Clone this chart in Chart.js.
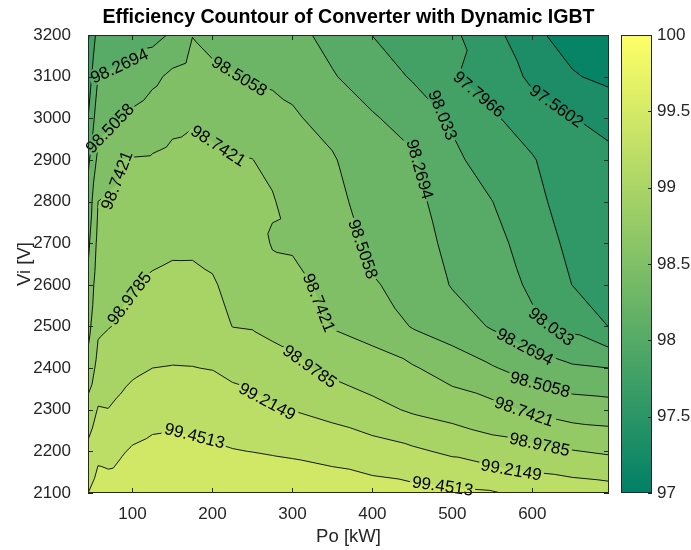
<!DOCTYPE html>
<html>
<head>
<meta charset="utf-8">
<script src="https://cdn.jsdelivr.net/npm/chart.js@4.4.0/dist/chart.umd.min.js"></script>
<style>
  html, body { margin: 0; padding: 0; background: #fff; }
</style>
</head>
<body>
<canvas id="effChart" width="691" height="550"></canvas>
<script>
"use strict";

// measurement grid: output power (kW) columns and input voltage (V) rows
let poGrid = [44.4, 57, 70, 85, 100, 125, 150, 175, 200, 225, 250, 275, 300, 350, 400, 450, 500, 550, 600, 650, 695.9];
let viGrid = [2100, 2200, 2300, 2400, 2500, 2600, 2700, 2800, 2900, 3000, 3100, 3200];

// efficiency (%) per Vi row, one value per Po column
let eff2100 = [99.45, 99.55, 99.54, 99.55, 99.60, 99.64, 99.67, 99.68, 99.6877, 99.67, 99.65, 99.63, 99.61, 99.58, 99.55, 99.52, 99.49, 99.47, 99.38, 99.35, 99.32];
let eff2200 = [99.27, 99.40, 99.385, 99.43, 99.475, 99.51, 99.52, 99.51, 99.482, 99.461, 99.448, 99.432, 99.418, 99.377, 99.315, 99.254, 99.174, 99.087, 99.049, 98.99, 98.947];
let eff2300 = [99.07, 99.23, 99.22, 99.266, 99.318, 99.365, 99.373, 99.364, 99.343, 99.318, 99.294, 99.235, 99.21, 99.14, 99.051, 98.949, 98.882, 98.814, 98.706, 98.629, 98.606];
let eff2400 = [98.815, 99.057, 99.091, 99.13, 99.173, 99.215, 99.222, 99.219, 99.208, 99.161, 99.123, 99.066, 99.032, 98.923, 98.834, 98.766, 98.633, 98.524, 98.403, 98.301, 98.27];
let eff2500 = [98.665, 98.942, 98.971, 99.0, 99.052, 99.111, 99.124, 99.123, 99.103, 98.976, 98.966, 98.93, 98.906, 98.731, 98.662, 98.493, 98.396, 98.247, 98.088, 97.973, 97.792];
let eff2600 = [98.56, 98.876, 98.905, 98.931, 98.952, 99.008, 99.029, 99.028, 98.999, 98.922, 98.911, 98.83, 98.802, 98.68, 98.522, 98.445, 98.253, 98.176, 97.987, 97.794, 97.744];
let eff2700 = [98.45, 98.809, 98.84, 98.869, 98.887, 98.921, 98.943, 98.944, 98.922, 98.867, 98.856, 98.725, 98.717, 98.629, 98.457, 98.396, 98.196, 98.105, 97.93, 97.737, 97.696];
let eff2800 = [98.345, 98.743, 98.775, 98.807, 98.821, 98.841, 98.867, 98.873, 98.853, 98.813, 98.80, 98.76, 98.656, 98.578, 98.401, 98.347, 98.138, 98.035, 97.87, 97.677, 97.648];
let eff2900 = [98.215, 98.567, 98.639, 98.745, 98.755, 98.762, 98.791, 98.802, 98.784, 98.759, 98.745, 98.69, 98.596, 98.528, 98.345, 98.298, 98.081, 97.931, 97.816, 97.62, 97.60];
let eff3000 = [98.03, 98.415, 98.45, 98.497, 98.562, 98.631, 98.693, 98.722, 98.684, 98.65, 98.621, 98.58, 98.535, 98.426, 98.289, 98.191, 98.003, 97.829, 97.677, 97.566, 97.509];
let eff3100 = [97.894, 98.275, 98.29, 98.312, 98.342, 98.451, 98.557, 98.605, 98.540, 98.518, 98.487, 98.47, 98.445, 98.284, 98.172, 98.01, 97.81, 97.723, 97.512, 97.347, 97.259];
let eff3200 = [97.76, 98.128, 98.14, 98.155, 98.17, 98.195, 98.30, 98.50, 98.46, 98.43, 98.40, 98.36, 98.328, 98.21, 98.03, 97.92, 97.84, 97.64, 97.38, 97.22, 97.0874];

let effRows = [eff2100, eff2200, eff2300, eff2400, eff2500, eff2600, eff2700, eff2800, eff2900, eff3000, eff3100, eff3200];

// contour levels (lowest fill uses effMin)
let levels = [97.3238, 97.5602, 97.7966, 98.033, 98.2694, 98.5058, 98.7421, 98.9785, 99.2149, 99.4513];
let effMin = 97.0874;

let xTicks = [100, 200, 300, 400, 500, 600];
let yTicks = [2100, 2200, 2300, 2400, 2500, 2600, 2700, 2800, 2900, 3000, 3100, 3200];
let cbTicks = [97, 97.5, 98, 98.5, 99, 99.5, 100];

// where the contour labels sit: [level index, Po, Vi]
let labelSpots = [
  [4, 83, 3129], [5, 73, 2975], [6, 68, 2855], [5, 241, 3120], [6, 212, 2951],
  [7, 98, 2562], [8, 271, 2327], [9, 177, 2234], [7, 317, 2394], [6, 324, 2550],
  [5, 371, 2674], [4, 465, 2880], [3, 489, 3009], [2, 532, 3055], [1, 631, 3031],
  [3, 622, 2495], [4, 589, 2445], [5, 610, 2363], [6, 589, 2291], [7, 609, 2216],
  [8, 574, 2160], [9, 488, 2120]
];

let fontFam = "'Liberation Sans', Arial, Helvetica, sans-serif";
let axisColor = "#262626";

// MATLAB "summer" map, caxis 97..100
function summerColor(v) {
  let t = (v - 97) / 3;
  t = Math.max(0, Math.min(1, t));
  return [Math.round(255 * t), Math.round(255 * (0.5 + 0.5 * t)), Math.round(255 * 0.4)];
}

function bandValue(v) {
  let k = 0;
  while (k < levels.length && v >= levels[k]) k++;
  return k === 0 ? effMin : levels[k - 1];
}

function findCell(arr, v) {
  for (let i = 0; i < arr.length - 2; i++) {
    if (v < arr[i + 1]) return i;
  }
  return arr.length - 2;
}

function effAt(po, vi) {
  let i = findCell(poGrid, po);
  let j = findCell(viGrid, vi);
  let u = (po - poGrid[i]) / (poGrid[i + 1] - poGrid[i]);
  let w = (vi - viGrid[j]) / (viGrid[j + 1] - viGrid[j]);
  u = Math.max(0, Math.min(1, u));
  w = Math.max(0, Math.min(1, w));
  let z00 = effRows[j][i], z10 = effRows[j][i + 1], z01 = effRows[j + 1][i], z11 = effRows[j + 1][i + 1];
  if (u + w <= 1) return z00 + u * (z10 - z00) + w * (z01 - z00);
  return z11 + (1 - u) * (z01 - z11) + (1 - w) * (z10 - z11);
}

function triSegment(tri, level, segs) {
  let pts = [];
  for (let e = 0; e < 3; e++) {
    let a = tri[e], b = tri[(e + 1) % 3];
    let da = a[2] - level, db = b[2] - level;
    if ((da < 0) !== (db < 0)) {
      let t = da / (da - db);
      pts.push([a[0] + t * (b[0] - a[0]), a[1] + t * (b[1] - a[1])]);
    }
  }
  if (pts.length === 2) segs.push(pts);
}

function contourSegments(level) {
  let segs = [];
  for (let j = 0; j < viGrid.length - 1; j++) {
    for (let i = 0; i < poGrid.length - 1; i++) {
      let p00 = [poGrid[i], viGrid[j], effRows[j][i]];
      let p10 = [poGrid[i + 1], viGrid[j], effRows[j][i + 1]];
      let p01 = [poGrid[i], viGrid[j + 1], effRows[j + 1][i]];
      let p11 = [poGrid[i + 1], viGrid[j + 1], effRows[j + 1][i + 1]];
      triSegment([p00, p10, p01], level, segs);
      triSegment([p11, p01, p10], level, segs);
    }
  }
  return segs;
}

let contourPlugin = {
  id: "contourPlugin",
  beforeDatasetsDraw(chart) {
    let ctx = chart.ctx;
    let area = chart.chartArea;
    let xs = chart.scales.x;
    let ys = chart.scales.y;

    // filled bands
    let W = Math.round(area.right - area.left);
    let H = Math.round(area.bottom - area.top);
    let off = document.createElement("canvas");
    off.width = W;
    off.height = H;
    let octx = off.getContext("2d");
    let img = octx.createImageData(W, H);
    for (let py = 0; py < H; py++) {
      let vi = ys.getValueForPixel(area.top + py + 0.5);
      for (let px = 0; px < W; px++) {
        let po = xs.getValueForPixel(area.left + px + 0.5);
        let c = summerColor(bandValue(effAt(po, vi)));
        let k = (py * W + px) * 4;
        img.data[k] = c[0];
        img.data[k + 1] = c[1];
        img.data[k + 2] = c[2];
        img.data[k + 3] = 255;
      }
    }
    octx.putImageData(img, 0, 0);
    ctx.drawImage(off, area.left, area.top);

    // contour segments in pixels
    let pixSegs = levels.map(function (lv) {
      return contourSegments(lv).map(function (s) {
        return [[xs.getPixelForValue(s[0][0]), ys.getPixelForValue(s[0][1])],
                [xs.getPixelForValue(s[1][0]), ys.getPixelForValue(s[1][1])]];
      });
    });

    // label placement: snap to the nearest point of its contour
    ctx.font = "17px " + fontFam;
    let placed = [];
    labelSpots.forEach(function (spot) {
      let segs = pixSegs[spot[0]];
      if (!segs.length) return;
      let sx = xs.getPixelForValue(spot[1]);
      let sy = ys.getPixelForValue(spot[2]);
      let best = null, bestD = Infinity, bestSeg = null;
      segs.forEach(function (s) {
        let ax = s[0][0], ay = s[0][1], bx = s[1][0], by = s[1][1];
        let dx = bx - ax, dy = by - ay;
        let len2 = dx * dx + dy * dy || 1e-9;
        let t = ((sx - ax) * dx + (sy - ay) * dy) / len2;
        t = Math.max(0, Math.min(1, t));
        let qx = ax + t * dx, qy = ay + t * dy;
        let d = (qx - sx) * (qx - sx) + (qy - sy) * (qy - sy);
        if (d < bestD) { bestD = d; best = [qx, qy]; bestSeg = s; }
      });
      let rx = bestSeg[1][0] - bestSeg[0][0], ry = bestSeg[1][1] - bestSeg[0][1];
      let dirX = 0, dirY = 0;
      segs.forEach(function (s) {
        let mx = (s[0][0] + s[1][0]) / 2, my = (s[0][1] + s[1][1]) / 2;
        if ((mx - best[0]) * (mx - best[0]) + (my - best[1]) * (my - best[1]) < 20 * 20) {
          let ex = s[1][0] - s[0][0], ey = s[1][1] - s[0][1];
          if (ex * rx + ey * ry < 0) { ex = -ex; ey = -ey; }
          dirX += ex;
          dirY += ey;
        }
      });
      if (dirX === 0 && dirY === 0) { dirX = rx; dirY = ry; }
      let ang = Math.atan2(dirY, dirX);
      if (ang > Math.PI / 2) ang -= Math.PI;
      if (ang < -Math.PI / 2) ang += Math.PI;
      let text = String(levels[spot[0]]);
      placed.push({ x: best[0], y: best[1], ang: ang, text: text, w: ctx.measureText(text).width });
    });

    // lines, with gaps under the labels
    ctx.save();
    ctx.beginPath();
    ctx.rect(area.left, area.top, area.right - area.left, area.bottom - area.top);
    placed.forEach(function (lb) {
      let c = Math.cos(lb.ang), s = Math.sin(lb.ang);
      let hw = lb.w / 2 + 2, hh = 8;
      let pts = [[-hw, -hh], [hw, -hh], [hw, hh], [-hw, hh]];
      pts.forEach(function (p, n) {
        let X = lb.x + p[0] * c - p[1] * s;
        let Y = lb.y + p[0] * s + p[1] * c;
        if (n === 0) ctx.moveTo(X, Y); else ctx.lineTo(X, Y);
      });
      ctx.closePath();
    });
    ctx.clip("evenodd");
    ctx.strokeStyle = "#000";
    ctx.lineWidth = 0.9;
    ctx.lineJoin = "round";
    ctx.beginPath();
    pixSegs.forEach(function (segs) {
      segs.forEach(function (s) {
        ctx.moveTo(s[0][0], s[0][1]);
        ctx.lineTo(s[1][0], s[1][1]);
      });
    });
    ctx.stroke();
    ctx.restore();

    // label text
    ctx.save();
    ctx.fillStyle = "#000";
    ctx.textAlign = "center";
    ctx.textBaseline = "middle";
    ctx.font = "17px " + fontFam;
    placed.forEach(function (lb) {
      ctx.save();
      ctx.translate(lb.x, lb.y);
      ctx.rotate(lb.ang);
      ctx.fillText(lb.text, 0, 1);
      ctx.restore();
    });
    ctx.restore();
  },
  afterDraw(chart) {
    let ctx = chart.ctx;
    let area = chart.chartArea;
    let xs = chart.scales.x;
    let ys = chart.scales.y;
    let cb = chart.scales.cb;

    // axes box with inward ticks
    ctx.save();
    ctx.strokeStyle = axisColor;
    ctx.lineWidth = 1;
    ctx.strokeRect(area.left + 0.5, area.top + 0.5, area.right - area.left - 1, area.bottom - area.top - 1);
    ctx.beginPath();
    xTicks.forEach(function (v) {
      let x = Math.round(xs.getPixelForValue(v)) + 0.5;
      ctx.moveTo(x, area.bottom);
      ctx.lineTo(x, area.bottom - 5);
      ctx.moveTo(x, area.top);
      ctx.lineTo(x, area.top + 5);
    });
    yTicks.forEach(function (v) {
      let y = Math.round(ys.getPixelForValue(v)) + 0.5;
      ctx.moveTo(area.left, y);
      ctx.lineTo(area.left + 5, y);
      ctx.moveTo(area.right, y);
      ctx.lineTo(area.right - 5, y);
    });
    ctx.stroke();

    // colorbar
    let cbLeft = 621, cbRight = 652;
    let yTop = cb.getPixelForValue(100), yBot = cb.getPixelForValue(97);
    let grad = ctx.createLinearGradient(0, yBot, 0, yTop);
    let c0 = summerColor(97), c1 = summerColor(100);
    grad.addColorStop(0, "rgb(" + c0.join(",") + ")");
    grad.addColorStop(1, "rgb(" + c1.join(",") + ")");
    ctx.fillStyle = grad;
    ctx.fillRect(cbLeft, yTop, cbRight - cbLeft, yBot - yTop);
    ctx.strokeRect(cbLeft + 0.5, yTop + 0.5, cbRight - cbLeft - 1, yBot - yTop - 1);
    ctx.beginPath();
    cbTicks.forEach(function (v) {
      let y = Math.round(cb.getPixelForValue(v)) + 0.5;
      ctx.moveTo(cbRight, y);
      ctx.lineTo(cbRight - 4, y);
    });
    ctx.stroke();
    ctx.fillStyle = axisColor;
    ctx.font = "17px " + fontFam;
    ctx.textAlign = "left";
    ctx.textBaseline = "middle";
    cbTicks.forEach(function (v) {
      ctx.fillText(String(v), cbRight + 5, cb.getPixelForValue(v));
    });
    ctx.restore();
  }
};

let ctxEl = document.getElementById("effChart").getContext("2d");
let effChart = new Chart(ctxEl, {
  type: "scatter",
  data: { datasets: [] },
  options: {
    responsive: false,
    animation: false,
    devicePixelRatio: 1,
    layout: { padding: { left: 0, right: 82, top: 0, bottom: 0 } },
    plugins: {
      legend: { display: false },
      tooltip: { enabled: false },
      title: {
        display: true,
        fullSize: false,
        text: "Efficiency Countour of Converter with Dynamic IGBT",
        color: "#000",
        font: { family: fontFam, size: 19.6, weight: "bold", lineHeight: 1.2 },
        padding: { top: 6, bottom: 5.5 }
      }
    },
    scales: {
      x: {
        type: "linear",
        min: 44.4,
        max: 695.9,
        grid: { display: false },
        border: { display: false },
        ticks: {
          color: axisColor,
          font: { family: fontFam, size: 17 },
          padding: 3,
          maxRotation: 0,
          callback: function (v) { return String(v); }
        },
        title: { display: true, text: "Po [kW]", color: axisColor, font: { family: fontFam, size: 18.5 }, padding: { top: 0, bottom: 2 } },
        afterBuildTicks: function (s) { s.ticks = xTicks.map(function (v) { return { value: v }; }); },
        afterFit: function (s) { s.height = 57; }
      },
      y: {
        type: "linear",
        min: 2100,
        max: 3200,
        grid: { display: false },
        border: { display: false },
        ticks: {
          color: axisColor,
          font: { family: fontFam, size: 17 },
          padding: 9,
          callback: function (v) { return String(v); }
        },
        title: { display: true, text: "Vi [V]", color: axisColor, font: { family: fontFam, size: 18.5 }, padding: { top: 14, bottom: 0 } },
        afterBuildTicks: function (s) { s.ticks = yTicks.map(function (v) { return { value: v }; }); },
        afterFit: function (s) { s.width = 88; }
      },
      cb: {
        type: "linear",
        display: false,
        position: "right",
        min: 97,
        max: 100
      }
    }
  },
  plugins: [contourPlugin]
});
</script>
</body>
</html>
